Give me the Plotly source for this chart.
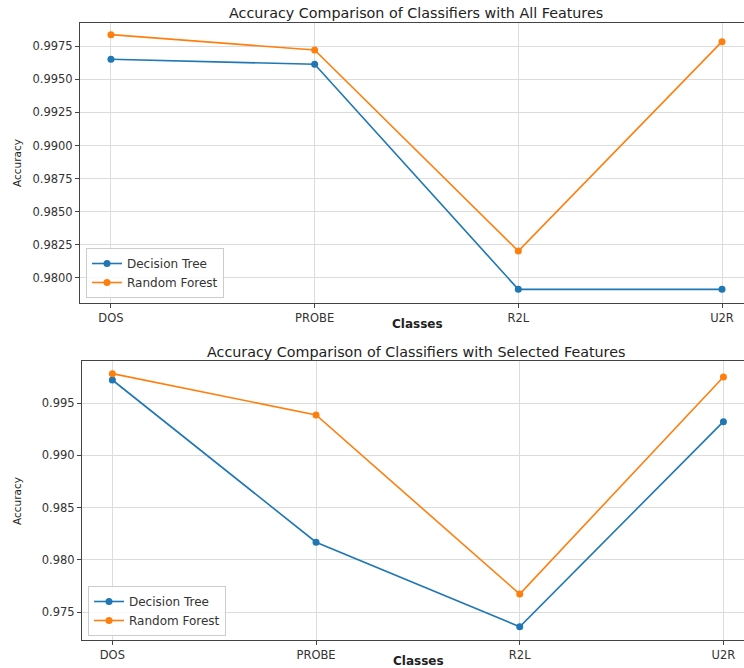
import plotly.graph_objects as go

# Per-class accuracy for each classifier
classes = ["DOS", "PROBE", "R2L", "U2R"]

dt_all = [0.99652, 0.99614, 0.97912, 0.97912]
rf_all = [0.99838, 0.99722, 0.98202, 0.99785]

dt_sel = [0.99723, 0.98169, 0.97359, 0.99324]
rf_sel = [0.99784, 0.99388, 0.97672, 0.99752]

top_ticks = [0.9800, 0.9825, 0.9850, 0.9875, 0.9900, 0.9925, 0.9950, 0.9975]
bottom_ticks = [0.975, 0.980, 0.985, 0.990, 0.995]

BLUE = "#1f77b4"
ORANGE = "#ff7f0e"
FONT = "DejaVu Sans"
W, H = 744, 668
L = 80

fig = go.Figure()


def add_series(x_ref, y_ref, legend, y_dt, y_rf):
    for name, vals, col in (("Decision Tree", y_dt, BLUE), ("Random Forest", y_rf, ORANGE)):
        fig.add_trace(go.Scatter(
            x=classes, y=vals, name=name, mode="lines+markers",
            xaxis=x_ref, yaxis=y_ref, legend=legend,
            line=dict(color=col, width=1.6),
            marker=dict(color=col, size=7),
        ))


add_series("x", "y", "legend", dt_all, rf_all)
add_series("x2", "y2", "legend2", dt_sel, rf_sel)


def py(px):
    return 1 - px / H


def px_x(px):
    return (px - L) / (W - L)


axis_common = dict(
    showline=True, linecolor="#444", linewidth=1,
    ticks="outside", ticklen=4, tickcolor="#444",
    showgrid=True, gridcolor="#dcdcdc", gridwidth=1,
    tickfont=dict(family=FONT, size=11.5, color="#333"),
    zeroline=False,
)

legend_common = dict(
    xanchor="left", yanchor="bottom",
    bgcolor="rgba(255,255,255,0.85)", bordercolor="#cccccc",
    borderwidth=1, font=dict(family=FONT, size=12, color="#333"),
    tracegroupgap=0, itemwidth=30,
)

fig.update_layout(
    width=W, height=H,
    margin=dict(l=L, r=0, t=0, b=0),
    paper_bgcolor="white", plot_bgcolor="white",
    font=dict(family=FONT, color="#333"),
    xaxis=dict(axis_common, domain=[0, 1], anchor="y", mirror=True,
               type="category", range=[-0.152, 3.108]),
    yaxis=dict(axis_common, domain=[py(302.7), py(22.7)], anchor="x",
               range=[0.97811, 0.999285], tickvals=top_ticks,
               tickformat=".4f"),
    xaxis2=dict(axis_common, domain=[px_x(82), 1], anchor="y2", mirror=True,
                type="category", range=[-0.149, 3.101]),
    yaxis2=dict(axis_common, domain=[py(640), py(361)], anchor="x2",
                range=[0.97232, 0.99905], tickvals=bottom_ticks,
                tickformat=".3f"),
    legend=dict(legend_common, x=px_x(86), y=py(298)),
    legend2=dict(legend_common, x=px_x(88), y=py(636)),
    showlegend=True,
)

annotations = [
    dict(text="Accuracy Comparison of Classifiers with All Features",
         x=px_x(416), y=py(13), font=dict(size=14.3)),
    dict(text="Accuracy Comparison of Classifiers with Selected Features",
         x=px_x(416), y=py(352), font=dict(size=14.3)),
    dict(text="<b>Classes</b>", x=px_x(417), y=py(324), font=dict(size=12)),
    dict(text="<b>Classes</b>", x=px_x(418), y=py(661), font=dict(size=12)),
    dict(text="Accuracy", x=-63 / (W - L), y=py(163), textangle=-90,
         font=dict(size=10.5)),
    dict(text="Accuracy", x=-63 / (W - L), y=py(501), textangle=-90,
         font=dict(size=10.5)),
]
for a in annotations:
    fig.add_annotation(
        xref="paper", yref="paper", showarrow=False,
        xanchor="center", yanchor="middle",
        x=a["x"], y=a["y"], text=a["text"], textangle=a.get("textangle", 0),
        font=dict(family=FONT, color="#222", **a["font"]),
    )

fig.write_html("out.html")
